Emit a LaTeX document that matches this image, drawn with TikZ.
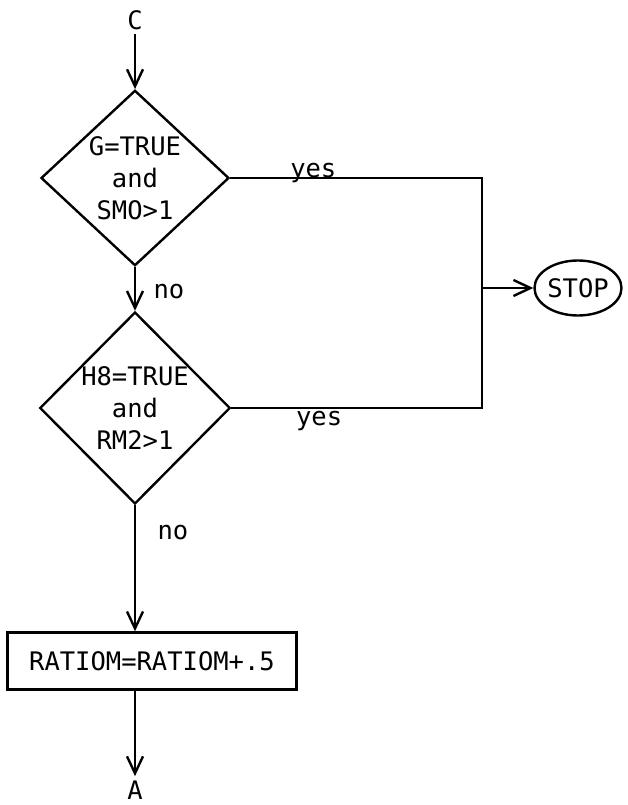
\documentclass[tikz,border=0pt]{standalone}
\usepackage{fontspec}
\setmainfont{DejaVu Sans Mono}
\usepackage{tikz}
\usetikzlibrary{shapes.geometric,arrows.meta}

\begin{document}
\begin{tikzpicture}[x=1pt, y=-1pt, font=\fontsize{25.5}{32}\selectfont, line width=2.4pt,
  >={Straight Barb[length=17pt,width=16pt]}]
\tikzstyle{decision}=[draw, diamond, inner sep=0pt, align=center]
\tikzstyle{process}=[draw, rectangle, inner sep=0pt, minimum width=289pt, minimum height=57pt]
\tikzstyle{terminal}=[draw, ellipse, inner sep=0pt, minimum width=87pt, minimum height=55pt]
\useasboundingbox (0,0) rectangle (628,805);

\node (c) at (135,20) {C};
\node[decision, minimum width=188pt, minimum height=170pt] (test1) at (135,178) {G=TRUE\\and\\SMO>1};
\node[decision, minimum width=190pt, minimum height=192pt] (test2) at (135,408) {H8=TRUE\\and\\RM2>1};
\node[process] (incr) at (152,661) {RATIOM=RATIOM+.5};
\node[terminal] (stop) at (578,288) {STOP};
\node (a) at (135,790) {A};
\coordinate (upper) at (482,178);
\coordinate (lower) at (482,408);
\coordinate (join) at (482,288);

\draw[->] (c) -- (test1.north);
\draw[->] (test1.south) -- node[pos=.55, right=14pt] {no} (test2.north);
\draw[->] (test2.south) -- node[pos=.22, right=18pt] {no} (test2.south |- incr.north);
\draw[->] (incr.south -| a) -- (a.north);
\draw (test1.east) -- node[pos=.33, anchor=base] {yes} (upper) -- (lower)
  -- node[pos=.65, anchor=north, inner sep=2pt] {yes} (test2.east);
\draw[->] (join) -- (stop.west);
\end{tikzpicture}
\end{document}
